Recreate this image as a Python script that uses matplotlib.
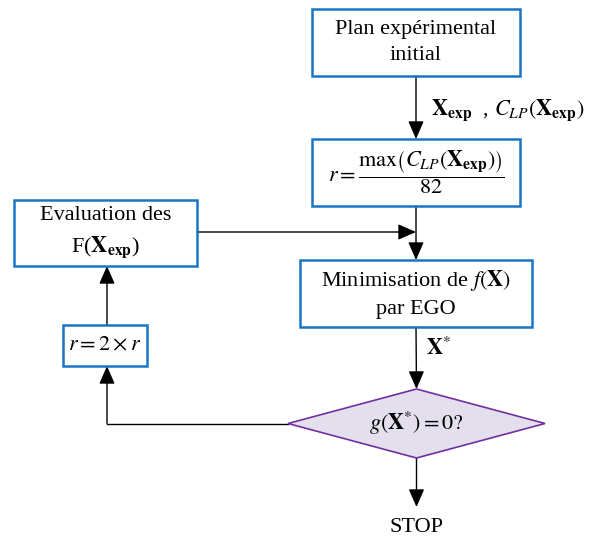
import matplotlib.pyplot as plt
from matplotlib.patches import Rectangle, Polygon

plt.rcParams['font.family'] = ['Liberation Serif', 'DejaVu Serif']
plt.rcParams['mathtext.fontset'] = 'stix'

# node labels
box_labels = [
    "Plan expérimental\ninitial",
    r"$r=\dfrac{\max\left(C_{LP}(\mathbf{X}_{\mathbf{exp}})\right)}{82}$",
    "Minimisation de $f(\\mathbf{X})$\npar EGO",
    "Evaluation des\nF($\\mathbf{X}_{\\mathbf{exp}}$)",
    r"$r=2\times r$",
]
decision_label = r"$g(\mathbf{X}^{*})=0?$"
edge_labels = [r"$\mathbf{X}_{\mathbf{exp}}$  , $C_{LP}(\mathbf{X}_{\mathbf{exp}})$", r"$\mathbf{X}^{*}$"]
end_label = "STOP"

# layout (pixels, x0, y0, x1, y1)
box_pos = [(312, 9, 520, 76), (312, 139, 520, 206), (300, 260, 532, 327),
           (14, 200, 197, 266), (63, 325, 147, 366)]
diamond = (288, 389, 545, 458)
cx = 416

blue = "#1a75c4"
fig = plt.figure(figsize=(5.92, 5.4), dpi=100)
ax = fig.add_axes([0, 0, 1, 1])
ax.set_xlim(0, 592)
ax.set_ylim(540, 0)
ax.axis("off")

for (x0, y0, x1, y1), lab in zip(box_pos, box_labels):
    ax.add_patch(Rectangle((x0, y0), x1 - x0, y1 - y0, fill=False, ec=blue, lw=1.8, zorder=3))
    ax.text((x0 + x1) / 2, (y0 + y1) / 2, lab, ha="center", va="center", fontsize=16,
            linespacing=1.5, zorder=4)

dx0, dy0, dx1, dy1 = diamond
dcx, dcy = (dx0 + dx1) / 2, (dy0 + dy1) / 2
ax.add_patch(Polygon([(dcx, dy0), (dx1, dcy), (dcx, dy1), (dx0, dcy)], closed=True,
                     fc="#e4dfec", ec="#7030a0", lw=1.2, zorder=3))
ax.text(dcx, dcy, decision_label, ha="center", va="center", fontsize=16, zorder=4)


def arrow(p0, p1):
    ax.annotate("", xy=p1, xytext=p0,
                arrowprops=dict(arrowstyle="-|>,head_length=0.55,head_width=0.24", color="black",
                                lw=1.0, mutation_scale=20, shrinkA=0, shrinkB=0), zorder=2)


def line(xs, ys):
    ax.plot(xs, ys, color="black", lw=1.0, zorder=2)


arrow((cx, 76), (cx, 139))
arrow((cx, 206), (cx, 260))
arrow((197, 232), (cx, 232))
arrow((cx, 327), (dcx, dy0))
arrow((dcx, dy1), (dcx, 507))
line([dx0, 107], [dcy, dcy])
arrow((107, dcy), (107, 366))
arrow((107, 325), (107, 266))

ax.text(431, 110, edge_labels[0], ha="left", va="center", fontsize=16)
ax.text(426, 349, edge_labels[1], ha="left", va="center", fontsize=16)
ax.text(dcx, 527, end_label, ha="center", va="center", fontsize=16)

fig.savefig("out.png", dpi=100)
